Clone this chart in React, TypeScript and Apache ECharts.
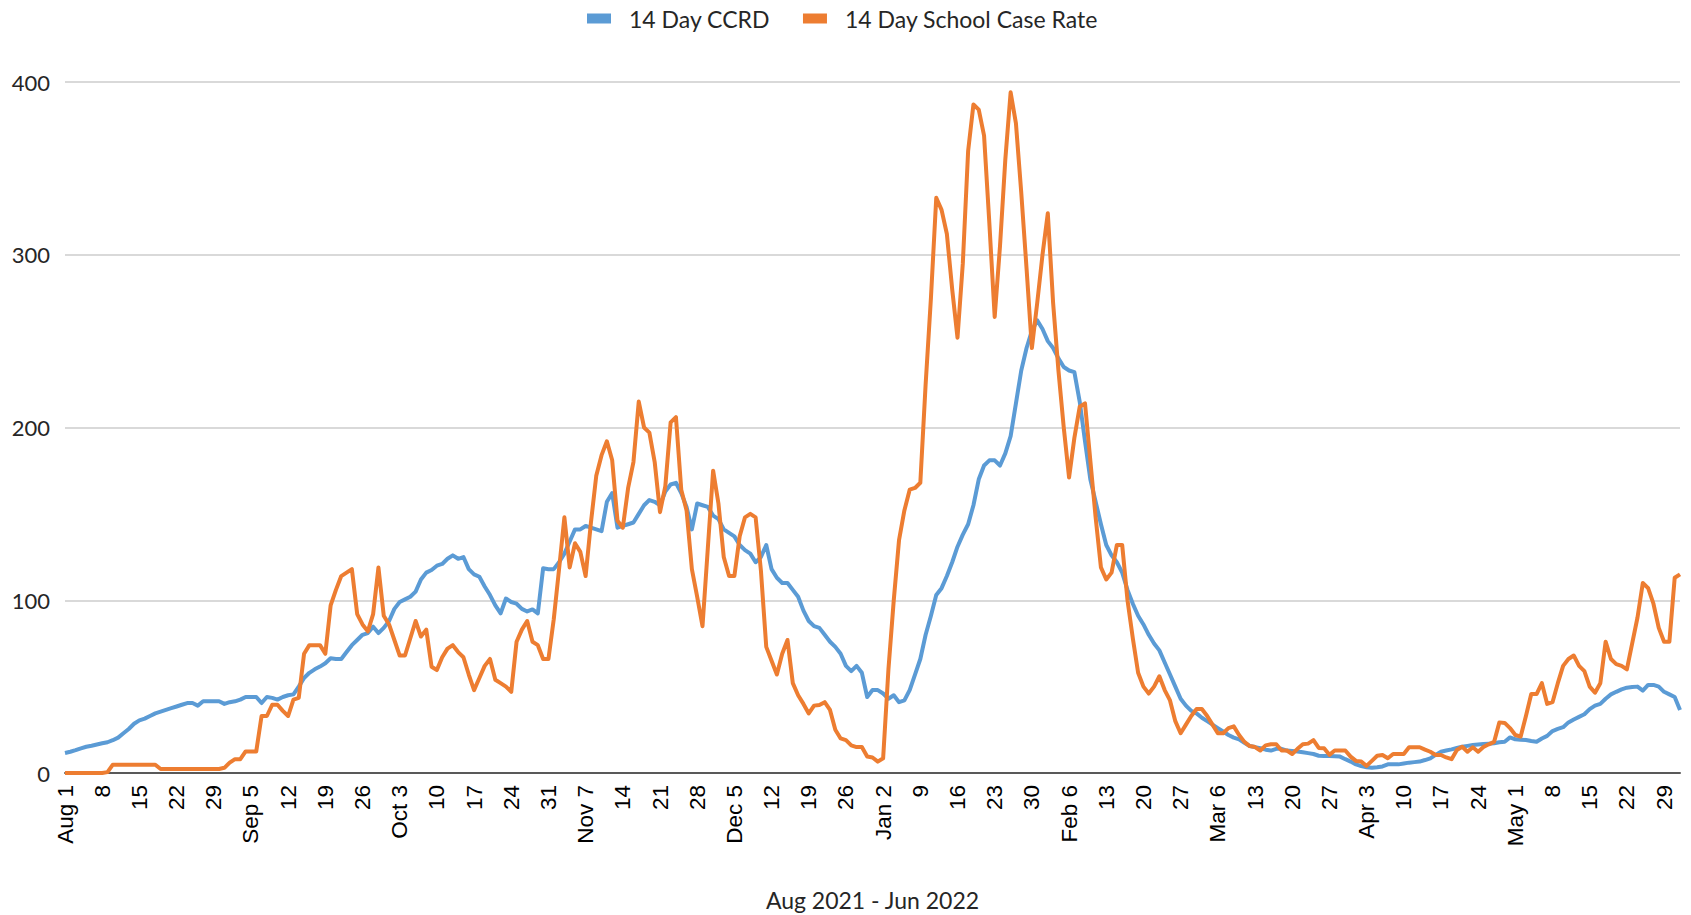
import React, { useEffect, useRef } from "react";
import * as echarts from "echarts";

// Tick labels shown every 7 days, starting Aug 1 2021
const tickLabels = [
  "Aug 1", "8", "15", "22", "29", "Sep 5", "12", "19", "26", "Oct 3", "10", "17", "24", "31",
  "Nov 7", "14", "21", "28", "Dec 5", "12", "19", "26", "Jan 2", "9", "16", "23", "30",
  "Feb 6", "13", "20", "27", "Mar 6", "13", "20", "27", "Apr 3", "10", "17", "24",
  "May 1", "8", "15", "22", "29",
];

const yTickValues = [0, 100, 200, 300, 400];

// 14 Day CCRD, daily from Aug 1 2021 (one week per line)
const ccrd = [
  11.6, 12.3, 13.2, 14.3, 15.2, 15.8, 16.5,
  17.2, 17.8, 19, 20.5, 23, 25.5, 28.5,
  30.5, 31.5, 33, 34.5, 35.5, 36.5, 37.5,
  38.5, 39.5, 40.5, 40.5, 39, 41.5, 41.5,
  41.5, 41.5, 40, 41, 41.5, 42.5, 44,
  44, 44, 40.5, 44, 43.5, 42.5, 44,
  45, 45.5, 50, 55, 58, 60, 61.6,
  63.5, 66.4, 66, 66, 70, 74, 77,
  80, 81, 84.7, 81, 84, 88, 95,
  99, 100.5, 102, 105, 112, 116, 117.5,
  120, 121, 124, 126, 124, 125, 118,
  115, 113.6, 108, 103, 97, 92.4, 101,
  99, 98, 95, 93.5, 94.7, 92.4, 118.5,
  118, 118, 122, 127, 134, 141, 141,
  143, 142, 141, 140, 157, 162, 142,
  143, 144, 145, 150, 155, 158, 157,
  155, 163, 167, 168, 162, 154, 141,
  156, 155, 154, 149, 147, 141, 139,
  137, 132, 129, 127, 122, 125, 132,
  118, 113, 110, 110, 106, 102, 94,
  88, 85, 84, 80, 76, 73, 69,
  62, 59, 62, 58, 44, 48, 48,
  46, 43, 45, 41, 42, 48, 57,
  66, 80, 91, 103, 107, 114, 122,
  131, 138, 144, 155, 170, 178, 181,
  181, 178, 185, 195, 214, 233, 246,
  256, 262, 257, 250, 246, 240, 235,
  233, 232, 215, 192, 170, 157, 144,
  132, 126, 122, 116, 106, 98, 91,
  86, 80, 75, 71, 64, 57, 50,
  43, 39, 36, 34.5, 32, 30, 28,
  26, 24, 22, 20.5, 19.5, 17.5, 15.6,
  15, 14.3, 13.5, 13, 14, 14, 13,
  12.8, 12.4, 12, 11.5, 11, 10, 9.8,
  9.8, 9.7, 9.5, 8, 6.6, 5, 4,
  3.3, 3, 3.3, 3.8, 5, 5, 5,
  5.5, 6, 6.3, 6.6, 7.5, 8.5, 10.5,
  12.3, 13, 13.7, 14.5, 15.2, 15.7, 16.2,
  16.5, 16.8, 17, 17.2, 17.8, 18.1, 20.6,
  19.5, 19.3, 19.1, 18.5, 18.1, 20, 21.5,
  24.3, 25.5, 26.5, 29.3, 31, 32.5, 34,
  37, 39, 40, 43, 45.5, 47, 48.4,
  49.4, 49.8, 50, 47.7, 51, 51, 50,
  47, 45.5, 44, 36.5,
];

// 14 Day School Case Rate, daily from Aug 1 2021 (one week per line)
const schoolRate = [
  0, 0, 0, 0, 0, 0, 0,
  0, 0.5, 4.8, 4.8, 4.8, 4.8, 4.8,
  4.8, 4.8, 4.8, 4.8, 2.3, 2.3, 2.3,
  2.3, 2.3, 2.3, 2.3, 2.3, 2.3, 2.3,
  2.3, 2.3, 3, 6, 8, 8, 12.5,
  12.5, 12.5, 33, 33, 39.5, 39.5, 36,
  33, 42.5, 43.5, 69, 74, 74, 74,
  69, 97, 106, 114, 116, 118, 92,
  86, 82, 92, 119, 91, 86, 77,
  68, 68, 78, 88, 79, 83, 61.5,
  59.6, 67, 72, 74, 70, 67, 57,
  48, 55, 62, 66, 54, 52, 50,
  47, 76, 83, 88, 76, 74, 66,
  66, 89, 118, 148, 119, 133, 128,
  114, 145, 172, 184, 192, 181, 146,
  142, 165, 180, 215, 200, 197, 180,
  151, 166, 203, 206, 164, 152, 118,
  102, 85, 130, 175, 156, 125, 114,
  114, 137, 148, 150, 148, 117, 73,
  65, 57, 69, 77, 52, 45, 40,
  34.5, 39, 39.4, 41, 36.5, 25, 20,
  19, 16, 15, 15, 9.5, 9, 6.6,
  8.5, 60, 100, 135, 152, 164, 165,
  168, 225, 275, 333, 326, 312, 280,
  252, 295, 360, 387, 384, 369, 318,
  264, 305, 355, 394, 376, 336, 292,
  246, 272, 300, 324, 272, 233, 200,
  171, 194, 212, 214, 181, 148, 119,
  112, 116, 132, 132, 100, 78, 58,
  50, 46, 50, 56, 48, 42, 30,
  23, 28, 33, 37, 37, 33, 28,
  23, 23, 26, 27, 22, 18, 15.6,
  15, 13, 16, 16.6, 16.6, 13, 13,
  11, 14, 16.6, 17, 19, 14.5, 14.3,
  10.5, 13, 13, 13, 9.5, 7, 6.6,
  4.1, 7, 10, 10.4, 8.5, 11, 11,
  11, 14.9, 14.9, 14.9, 13.5, 12.3, 10.4,
  10.4, 9, 8, 13.3, 15.2, 12.3, 14.9,
  12.3, 15, 16.6, 18, 29.3, 29, 26,
  22, 21, 33, 45.7, 45.7, 52, 40,
  41, 52, 62, 66, 68, 62, 59,
  50, 46.5, 52, 76, 66, 63, 62,
  60, 75, 90, 110, 107, 98, 84,
  76, 76, 113, 115,
];

const MONTHS = ["Jan", "Feb", "Mar", "Apr", "May", "Jun", "Jul", "Aug", "Sep", "Oct", "Nov", "Dec"];
const START = Date.UTC(2021, 7, 1);
const categories = ccrd.map((_, i) => {
  const d = new Date(START + i * 86400000);
  return `${MONTHS[d.getUTCMonth()]} ${d.getUTCDate()}`;
});

const CALIBRI_LIKE = "Lato, 'Open Sans', sans-serif";

export default function App() {
  const ref = useRef<HTMLDivElement>(null);

  useEffect(() => {
    if (!ref.current) return;
    const chart = echarts.init(ref.current, null, { renderer: "svg" });
    const gridLeft = 65;
    const gridRight = 11;
    chart.setOption({
      animation: false,
      backgroundColor: "#ffffff",
      legend: {
        top: 2,
        left: 582,
        itemWidth: 24,
        itemHeight: 10,
        itemGap: 33,
        icon: "rect",
        textStyle: {
          fontFamily: CALIBRI_LIKE,
          fontSize: 23,
          color: "#262626",
          padding: [0, 0, 0, 13],
        },
        data: ["14 Day CCRD", "14 Day School Case Rate"],
      },
      grid: { left: gridLeft, right: gridRight, top: 82, bottom: 142, containLabel: false },
      xAxis: {
        type: "category",
        data: categories,
        boundaryGap: false,
        axisLine: { show: true, onZero: true, lineStyle: { color: "#595959", width: 2 } },
        axisTick: { show: false },
        splitLine: { show: false },
        axisLabel: {
          interval: 6,
          rotate: 90,
          margin: 12,
          hideOverlap: false,
          fontFamily: "'Liberation Sans', Arial, sans-serif",
          fontSize: 22.5,
          color: "#000000",
          formatter: (_v: string, i: number) => (i % 7 === 0 ? tickLabels[i / 7] ?? "" : ""),
        },
      },
      yAxis: {
        type: "value",
        min: yTickValues[0],
        max: yTickValues[yTickValues.length - 1],
        interval: 100,
        axisLine: { show: false },
        axisTick: { show: false },
        axisLabel: {
          margin: 15,
          fontFamily: CALIBRI_LIKE,
          fontSize: 22,
          color: "#262626",
        },
        splitLine: { show: true, lineStyle: { color: "#d9d9d9", width: 2 } },
      },
      series: [
        {
          name: "14 Day CCRD",
          type: "line",
          data: ccrd,
          showSymbol: false,
          symbol: "none",
          smooth: false,
          color: "#5b9bd5",
          lineStyle: { color: "#5b9bd5", width: 4, join: "round" },
          z: 2,
        },
        {
          name: "14 Day School Case Rate",
          type: "line",
          data: schoolRate,
          showSymbol: false,
          symbol: "none",
          smooth: false,
          color: "#ed7d31",
          lineStyle: { color: "#ed7d31", width: 4, join: "round" },
          z: 3,
        },
      ],
      graphic: [
        {
          type: "text",
          x: (gridLeft + (1691 - gridRight)) / 2,
          y: 900,
          style: {
            text: "Aug 2021 - Jun 2022",
            fill: "#262626",
            font: `23px ${CALIBRI_LIKE}`,
            textAlign: "center",
            textVerticalAlign: "middle",
          },
        },
      ],
    });
    return () => chart.dispose();
  }, []);

  return (
    <div
      ref={ref}
      style={{ position: "fixed", left: 0, top: 0, width: 1691, height: 915, background: "#fff" }}
    />
  );
}
